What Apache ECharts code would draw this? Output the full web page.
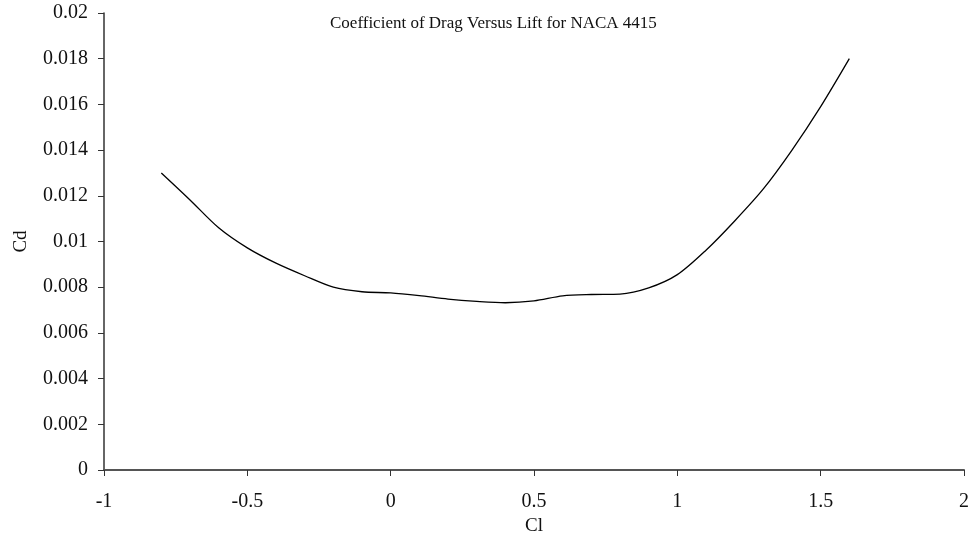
<!DOCTYPE html>
<html><head><meta charset="utf-8">
<script src="https://cdn.jsdelivr.net/npm/echarts@6/dist/echarts.min.js"></script>
<style>html,body{margin:0;padding:0;background:#fff}#c{width:972px;height:544px}</style>
</head><body><div id="c"></div>
<script>
const cl = [-0.8,-0.7,-0.6,-0.5,-0.4,-0.3,-0.2,-0.1,0.0,0.1,0.2,0.3,0.4,0.5,0.6,0.7,0.8,0.9,1.0,1.1,1.2,1.3,1.4,1.5,1.6];
const cd = [0.0130,0.01182,0.0106,0.00972,0.00905,0.0085,0.0080,0.0078,0.00775,0.00763,0.00748,0.00738,0.00732,0.0074,0.00762,0.00768,0.0077,0.00797,0.00855,0.00962,0.0109,0.0123,0.0140,0.0159,0.0180];
const titleText = 'Coefficient of Drag Versus Lift for NACA 4415';
const xName = 'Cl', yName = 'Cd';
const font = '"Liberation Serif","Times New Roman",serif';
const chart = echarts.init(document.getElementById('c'));
chart.setOption({
  animation:false,
  title:{text:titleText,left:325,top:10,textStyle:{fontFamily:font,fontSize:17,fontWeight:'normal',color:'#111'}},
  grid:{left:104,right:7,top:13,bottom:74,containLabel:false},
  xAxis:{type:'value',min:-1,max:2,interval:0.5,name:xName,nameLocation:'middle',nameGap:46,
    nameTextStyle:{fontFamily:font,fontSize:19,color:'#111'},
    axisLine:{lineStyle:{color:'#555',width:2}},axisTick:{length:6,lineStyle:{color:'#333'}},
    axisLabel:{fontFamily:font,fontSize:20,color:'#111',margin:22},splitLine:{show:false}},
  yAxis:{type:'value',min:0,max:0.02,interval:0.002,name:yName,nameLocation:'middle',nameGap:73,
    nameTextStyle:{fontFamily:font,fontSize:19,color:'#111'},
    axisLine:{show:true,onZero:false,lineStyle:{color:'#333',width:1.5}},axisTick:{show:true,length:6,lineStyle:{color:'#333'}},
    axisLabel:{fontFamily:font,fontSize:20,color:'#111',margin:16},splitLine:{show:false}},
  series:[{type:'line',data:cl.map((x,i)=>[x,cd[i]]),smooth:0.3,showSymbol:false,
    lineStyle:{color:'#000',width:1.3}}]
});
</script></body></html>
